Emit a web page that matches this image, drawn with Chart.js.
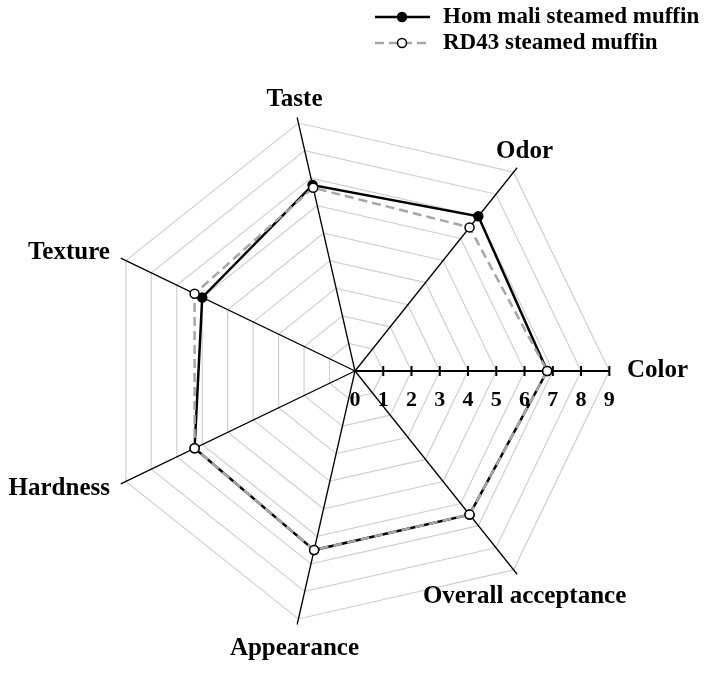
<!DOCTYPE html>
<html>
<head>
<meta charset="utf-8">
<title>Steamed muffin sensory scores</title>
<script src="https://cdn.jsdelivr.net/npm/chart.js@4.4.1/dist/chart.umd.min.js"></script>
<style>
  html, body { margin: 0; padding: 0; background: #fff; }
  canvas { display: block; }
</style>
</head>
<body>
<canvas id="radarChart" width="706" height="673"></canvas>
<script>
// attributes, going clockwise from the right-hand (Color) axis
const attributes = ['Color', 'Overall acceptance', 'Appearance', 'Hardness', 'Texture', 'Taste', 'Odor'];
const homMaliScores = [6.8, 6.5, 6.5, 6.3, 6.0, 6.75, 7.0];
const rd43Scores = [6.8, 6.5, 6.5, 6.3, 6.3, 6.65, 6.5];
const seriesNames = ['Hom mali steamed muffin', 'RD43 steamed muffin'];
const scoreTicks = [0, 1, 2, 3, 4, 5, 6, 7, 8, 9];

const FONT = '"Liberation Serif", "Times New Roman", serif';

// draws the scored Color axis, the point labels and the legend
const radarExtras = {
    id: 'radarExtras',
    beforeDatasetsDraw(chart) {
        const r = chart.scales.r;
        const ctx = chart.ctx;
        const top = scoreTicks[scoreTicks.length - 1];
        const end = r.getPointPositionForValue(0, top);

        ctx.save();
        ctx.strokeStyle = '#000';
        ctx.lineWidth = 2;
        ctx.beginPath();
        ctx.moveTo(r.xCenter, r.yCenter);
        ctx.lineTo(end.x, end.y);
        scoreTicks.forEach(v => {
            if (v === 0) return;
            const p = r.getPointPositionForValue(0, v);
            ctx.moveTo(p.x, p.y - 5);
            ctx.lineTo(p.x, p.y + 5);
        });
        ctx.stroke();

        ctx.fillStyle = '#000';
        ctx.font = 'bold 22px ' + FONT;
        ctx.textAlign = 'center';
        ctx.textBaseline = 'middle';
        scoreTicks.forEach(v => {
            const p = r.getPointPositionForValue(0, v);
            ctx.fillText(String(v), p.x, p.y + 29);
        });
        ctx.restore();
    },
    afterDraw(chart) {
        const r = chart.scales.r;
        const ctx = chart.ctx;
        ctx.save();
        ctx.fillStyle = '#000';
        ctx.font = 'bold 25px ' + FONT;

        // attribute names just outside the end of each axis
        attributes.forEach((name, i) => {
            const p = r.getPointPosition(i, r.drawingArea + 12);
            const angle = r.getIndexAngle(i) - Math.PI / 2;
            const c = Math.cos(angle);
            if (c > 0.7) {
                ctx.textAlign = 'left';
                ctx.textBaseline = 'middle';
            } else if (c < -0.7) {
                ctx.textAlign = 'right';
                ctx.textBaseline = 'middle';
            } else {
                ctx.textAlign = 'center';
                ctx.textBaseline = p.y < r.yCenter ? 'alphabetic' : 'top';
            }
            ctx.fillText(name, p.x, p.y);
        });

        // legend, top right
        ctx.font = 'bold 23px ' + FONT;
        ctx.textAlign = 'left';
        ctx.textBaseline = 'middle';
        chart.data.datasets.forEach((ds, i) => {
            const y = 17 + i * 26;
            ctx.save();
            ctx.strokeStyle = ds.borderColor;
            ctx.lineWidth = ds.borderWidth;
            ctx.setLineDash(ds.borderDash || []);
            ctx.beginPath();
            ctx.moveTo(375, y);
            ctx.lineTo(430, y);
            ctx.stroke();
            ctx.setLineDash([]);
            ctx.beginPath();
            ctx.arc(402, y, ds.pointRadius, 0, Math.PI * 2);
            ctx.fillStyle = ds.pointBackgroundColor;
            ctx.fill();
            ctx.lineWidth = ds.pointBorderWidth;
            ctx.strokeStyle = ds.pointBorderColor;
            ctx.stroke();
            ctx.restore();
            ctx.fillText(ds.label, 443, y);
        });
        ctx.restore();
    }
};

const ctx = document.getElementById('radarChart').getContext('2d');

const radarChart = new Chart(ctx, {
    type: 'radar',
    data: {
        labels: attributes,
        datasets: [
            {
                label: seriesNames[0],
                data: homMaliScores,
                borderColor: '#000',
                borderWidth: 2.5,
                fill: false,
                pointRadius: 4.5,
                pointBorderWidth: 1.5,
                pointBackgroundColor: '#000',
                pointBorderColor: '#000',
                order: 1
            },
            {
                label: seriesNames[1],
                data: rd43Scores,
                borderColor: '#a6a6a6',
                borderWidth: 2.5,
                borderDash: [9, 5],
                fill: false,
                pointRadius: 4.5,
                pointBorderWidth: 1.5,
                pointBackgroundColor: '#fff',
                pointBorderColor: '#000',
                order: 0
            }
        ]
    },
    options: {
        responsive: false,
        devicePixelRatio: 1,
        animation: false,
        layout: {
            padding: { left: 95, right: 91, top: 111, bottom: 42 }
        },
        scales: {
            r: {
                min: 0,
                max: 9.2, // axes run a little past the outer ring
                startAngle: 90,
                ticks: {
                    display: false,
                    stepSize: 1,
                    includeBounds: false
                },
                grid: {
                    color: '#d0d0d0',
                    lineWidth: 1.2
                },
                angleLines: {
                    color: '#000',
                    lineWidth: (c) => c.index === 0 ? 0 : 1.3
                },
                pointLabels: {
                    display: false
                }
            }
        },
        plugins: {
            legend: { display: false },
            tooltip: { enabled: false }
        }
    },
    plugins: [radarExtras]
});
</script>
</body>
</html>
